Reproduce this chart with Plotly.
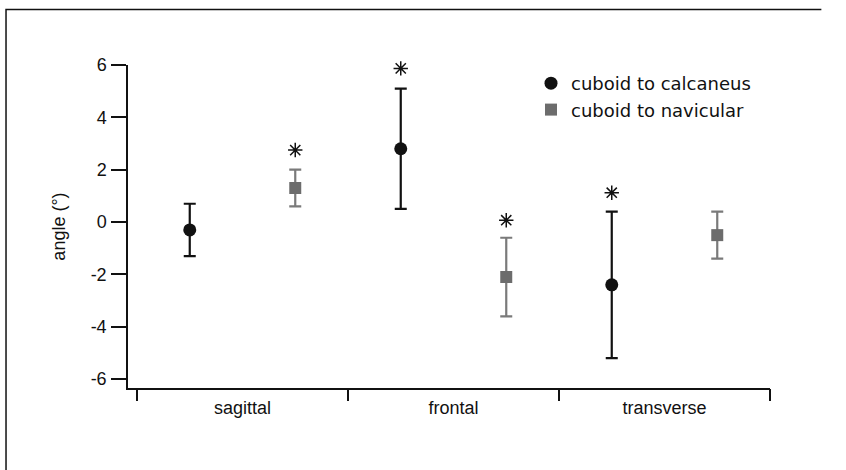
import plotly.graph_objects as go

# ---- data ----
categories = ["sagittal", "frontal", "transverse"]
calc_mean = [-0.3, 2.8, -2.4]
calc_err = [1.0, 2.3, 2.8]
nav_mean = [1.3, -2.1, -0.5]
nav_err = [0.7, 1.5, 0.9]
# significance asterisks: (series, category index, y)
star_series = ["nav", "calc", "nav", "calc"]
star_cat = [0, 1, 1, 2]
star_y = [2.75, 5.87, 0.07, 1.12]
y_ticks = [-6, -4, -2, 0, 2, 4, 6]
y_ticktext = ["-6", "-4", "-2", "0", "2", "4", "6"]

# ---- layout constants ----
W, H = 846, 470
L, R, T, B = 128, 76, 65, 82
OFF = 0.25
idx = list(range(len(categories)))
x_calc = [i - OFF for i in idx]
x_nav = [i + OFF for i in idx]
star_x = [c - OFF if s == "calc" else c + OFF for s, c in zip(star_series, star_cat)]

BLACK = "#111111"
GRAY = "#7a7a7a"
SQ = "#6c6c6c"
TICKFONT = dict(family="Liberation Sans, Arial, sans-serif", size=18, color="#111111")

fig = go.Figure()
fig.add_trace(go.Scatter(
    x=x_calc, y=calc_mean, mode="markers", name="cuboid to calcaneus",
    marker=dict(symbol="circle", size=13, color=BLACK),
    error_y=dict(type="data", array=calc_err, visible=True, color=BLACK, thickness=2.2, width=6),
))
fig.add_trace(go.Scatter(
    x=x_nav, y=nav_mean, mode="markers", name="cuboid to navicular",
    marker=dict(symbol="square", size=12, color=SQ),
    error_y=dict(type="data", array=nav_err, visible=True, color=GRAY, thickness=2.2, width=6),
))
fig.add_trace(go.Scatter(
    x=star_x, y=star_y, mode="markers", showlegend=False, cliponaxis=False,
    marker=dict(symbol="asterisk-open", size=12, color=BLACK, line=dict(color=BLACK, width=1.5)),
))
# invisible trace for separator-tick axis
fig.add_trace(go.Scatter(x=[idx[0]], y=[0], xaxis="x2", mode="markers",
                         marker=dict(opacity=0), showlegend=False, hoverinfo="skip"))

xr = [-0.5 - 9 / 211, len(categories) - 0.5]
seps = [i - 0.5 for i in range(len(categories) + 1)]

fig.update_layout(
    width=W, height=H,
    margin=dict(l=L, r=R, t=T, b=B),
    paper_bgcolor="white", plot_bgcolor="white",
    showlegend=True,
    legend=dict(x=(531 - L) / (W - L - R), y=(H - B - 65) / (H - T - B),
                xanchor="left", yanchor="top",
                font=dict(family="DejaVu Sans, sans-serif", size=18, color="#111111"),
                bgcolor="rgba(0,0,0,0)", tracegroupgap=0),
    xaxis=dict(range=xr, tickvals=idx, ticktext=categories, ticks="",
               showline=True, linecolor=BLACK, linewidth=1.5,
               showgrid=False, zeroline=False, tickfont=TICKFONT, ticklabelstandoff=3),
    xaxis2=dict(range=xr, overlaying="x", side="bottom", tickvals=seps,
                showticklabels=False, ticks="outside", ticklen=12, tickwidth=1.5,
                tickcolor=BLACK, showgrid=False, zeroline=False, showline=False),
    yaxis=dict(range=[-6.34, 6], tickvals=y_ticks, ticktext=y_ticktext, ticks="outside", ticklen=15,
               tickwidth=1.5, tickcolor=BLACK, showline=True, linecolor=BLACK,
               linewidth=1.5, showgrid=False, zeroline=False, tickfont=TICKFONT,
               ticklabelstandoff=1,
               title=dict(text="angle (°)", font=TICKFONT, standoff=20)),
)

# frame (top and left border lines) as one open path
fig.add_shape(type="path", xref="paper", yref="paper",
              path="M -0.19 -0.26 L -0.19 1.1718 L 1.08 1.1718",
              line=dict(color=BLACK, width=1.5))

fig.write_html("out.html")
